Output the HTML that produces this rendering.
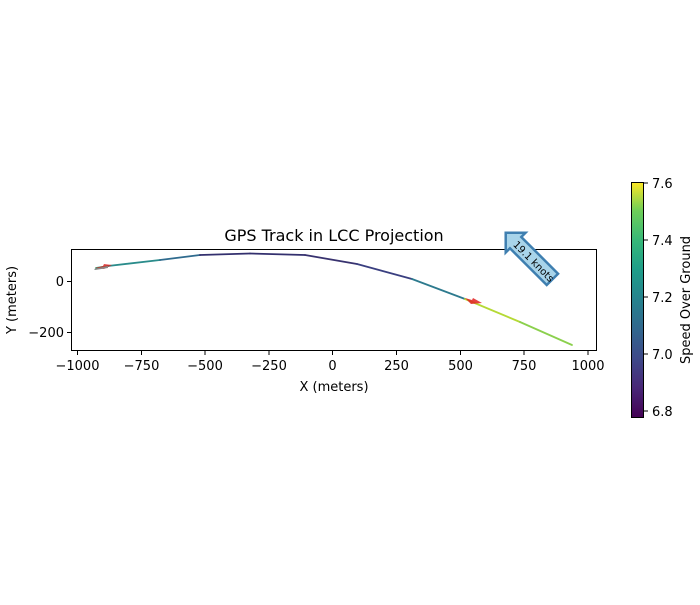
<!DOCTYPE html>
<html><head><meta charset="utf-8"><style>
body{margin:0;background:#fff;}
svg text{font-family:"DejaVu Sans","Liberation Sans",sans-serif;}
</style></head><body>
<svg width="700" height="600" viewBox="0 0 700 600" xmlns="http://www.w3.org/2000/svg">
<defs>
<linearGradient id="vir" x1="0" y1="1" x2="0" y2="0">
<stop offset="0" stop-color="#440154"/>
<stop offset="0.13" stop-color="#482878"/>
<stop offset="0.25" stop-color="#3e4989"/>
<stop offset="0.38" stop-color="#31688e"/>
<stop offset="0.5" stop-color="#26828e"/>
<stop offset="0.63" stop-color="#1f9e89"/>
<stop offset="0.75" stop-color="#35b779"/>
<stop offset="0.88" stop-color="#6ece58"/>
<stop offset="1" stop-color="#fde725"/>
</linearGradient>
</defs>
<text x="334" y="241" font-size="16" text-anchor="middle">GPS Track in LCC Projection</text>
<g stroke-width="1.8" fill="none" stroke-linecap="round">
<line x1="96" y1="268" x2="108" y2="266" stroke="#2fa883"/>
<line x1="108" y1="266" x2="160" y2="260" stroke="#2a8c8b"/>
<line x1="160" y1="260" x2="200" y2="255" stroke="#2f6b8e"/>
<line x1="200" y1="255" x2="250" y2="253.5" stroke="#33306e"/>
<line x1="250" y1="253.5" x2="305" y2="255" stroke="#33306e"/>
<line x1="305" y1="255" x2="357" y2="264" stroke="#38326f"/>
<line x1="357" y1="264" x2="412" y2="279" stroke="#3a3f80"/>
<line x1="412" y1="279" x2="465" y2="299" stroke="#2d7a8e"/>
<line x1="465" y1="299" x2="520" y2="322" stroke="#b5d935"/>
<line x1="520" y1="322" x2="572" y2="345" stroke="#8bd04d"/>
</g>
<polygon points="95,268 103,266 104,264 112,265 104,269" fill="#e02020" opacity="0.8"/>
<polygon points="94,269 108,266 108,268 95,270" fill="#888"/>
<polygon points="465,298 472,300 473,298 482,303 471,304" fill="#e02020" opacity="0.85"/>
<rect x="71.5" y="249.5" width="525" height="101" fill="none" stroke="#000" stroke-width="1"/>
<g stroke="#000" stroke-width="1">
<line x1="77.5" y1="351" x2="77.5" y2="355"/><line x1="141.5" y1="351" x2="141.5" y2="355"/>
<line x1="205" y1="351" x2="205" y2="355"/><line x1="269" y1="351" x2="269" y2="355"/>
<line x1="332.5" y1="351" x2="332.5" y2="355"/><line x1="396.5" y1="351" x2="396.5" y2="355"/>
<line x1="460.5" y1="351" x2="460.5" y2="355"/><line x1="524" y1="351" x2="524" y2="355"/>
<line x1="588" y1="351" x2="588" y2="355"/>
<line x1="67" y1="281.5" x2="71" y2="281.5"/><line x1="67" y1="332.5" x2="71" y2="332.5"/>
</g>
<g font-size="13" text-anchor="middle">
<text x="77.5" y="370">−1000</text><text x="141.5" y="370">−750</text><text x="205" y="370">−500</text>
<text x="269" y="370">−250</text><text x="332.5" y="370">0</text><text x="396.5" y="370">250</text>
<text x="460.5" y="370">500</text><text x="524" y="370">750</text><text x="588" y="370">1000</text>
<text x="334" y="391">X (meters)</text>
</g>
<g font-size="13" text-anchor="end">
<text x="64" y="286">0</text><text x="64" y="337">−200</text>
</g>
<text transform="translate(16,300) rotate(-90)" font-size="13" text-anchor="middle">Y (meters)</text>
<g transform="translate(534,261) rotate(45)">
<polygon points="-40,0 -26,-14 -26,-8 26,-8 26,8 -26,8 -26,14" fill="#a8d4ea" stroke="#3f7fb0" stroke-width="2.5"/>
<text x="0" y="4" font-size="10" text-anchor="middle">19.1 knots</text>
</g>
<rect x="631.5" y="182.5" width="12" height="235" fill="url(#vir)" stroke="#000" stroke-width="1"/>
<g stroke="#000"><line x1="644" y1="183" x2="648" y2="183"/><line x1="644" y1="240" x2="648" y2="240"/>
<line x1="644" y1="297" x2="648" y2="297"/><line x1="644" y1="354" x2="648" y2="354"/><line x1="644" y1="411" x2="648" y2="411"/></g>
<g font-size="13">
<text x="652" y="188">7.6</text><text x="652" y="245">7.4</text><text x="652" y="302">7.2</text>
<text x="652" y="359">7.0</text><text x="652" y="416">6.8</text>
</g>
<text transform="translate(690,300) rotate(-90)" font-size="13" text-anchor="middle">Speed Over Ground</text>
</svg>
</body></html>
